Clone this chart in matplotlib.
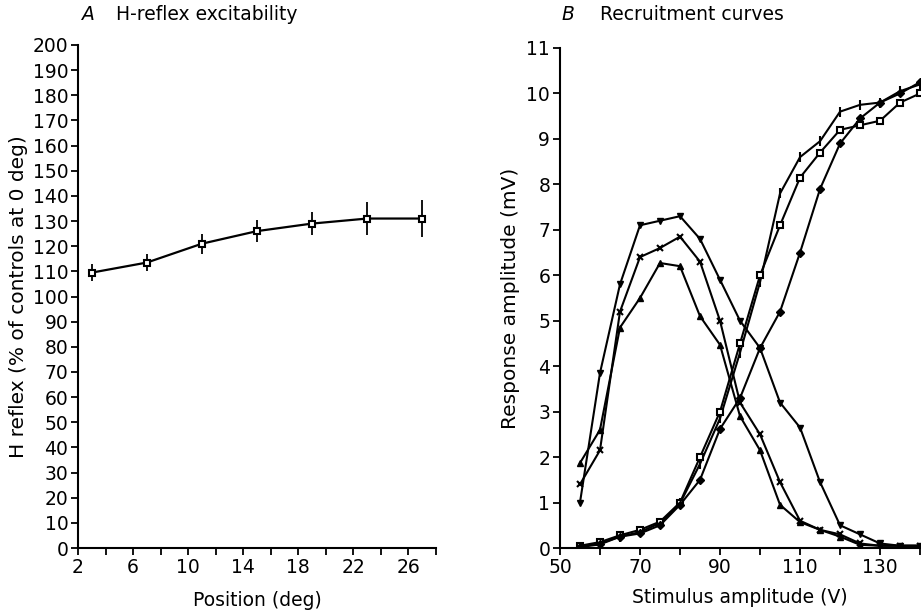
import matplotlib
matplotlib.use("Agg")
import matplotlib.pyplot as plt

plt.rcParams['font.family'] = ['DejaVu Sans']
plt.rcParams['font.size'] = 13.5

# panel A: H-reflex excitability vs position
position = [3, 7, 11, 15, 19, 23, 27]
h_reflex = [109.5, 113.5, 121, 126, 129, 131, 131]
h_err = [3.5, 3.5, 4, 4.5, 4.5, 6.5, 7.5]

# panel B: recruitment curves
stimulus = [55, 60, 65, 70, 75, 80, 85, 90, 95, 100, 105, 110, 115, 120, 125, 130, 135, 140]
h_down_tri = [1.0, 3.85, 5.8, 7.1, 7.2, 7.3, 6.8, 5.9, 5.0, 4.4, 3.2, 2.65, 1.45, 0.5, 0.3, 0.1, 0.05, 0.05]
h_cross = [1.4, 2.15, 5.2, 6.4, 6.6, 6.85, 6.3, 5.0, 3.2, 2.5, 1.45, 0.6, 0.4, 0.3, 0.1, 0.05, 0.05, 0.05]
h_up_tri = [1.87, 2.6, 4.85, 5.5, 6.27, 6.2, 5.1, 4.47, 2.9, 2.15, 0.95, 0.57, 0.4, 0.25, 0.07, 0.05, 0.05, 0.05]
m_plus = [0.03, 0.1, 0.25, 0.35, 0.55, 0.98, 1.85, 2.85, 4.3, 5.85, 7.8, 8.6, 8.95, 9.6, 9.75, 9.8, 10.05, 10.2]
m_square = [0.05, 0.13, 0.28, 0.4, 0.58, 1.0, 2.0, 3.0, 4.5, 6.0, 7.1, 8.15, 8.7, 9.2, 9.3, 9.4, 9.8, 10.0]
m_diamond = [0.02, 0.08, 0.25, 0.32, 0.5, 0.95, 1.5, 2.62, 3.3, 4.4, 5.2, 6.5, 7.9, 8.9, 9.45, 9.8, 10.0, 10.25]

fig = plt.figure(figsize=(9.21, 6.13), dpi=100)

axA = fig.add_axes([0.0847, 0.106, 0.3887, 0.8206])
axA.errorbar(position, h_reflex, yerr=h_err, color='black', lw=1.6, elinewidth=1.3,
             capsize=0, marker='s', mfc='white', mec='black', ms=5, mew=1.5)
axA.set_xlim(2, 28)
axA.set_ylim(0, 200)
axA.set_xticks(range(2, 29, 2))
axA.set_xticklabels([str(v) if v % 4 == 2 else '' for v in range(2, 29, 2)])
axA.set_yticks(range(0, 201, 10))
axA.set_xlabel('Position (deg)', labelpad=10)
axA.set_ylabel('H reflex (% of controls at 0 deg)', labelpad=3, fontsize=14.5)

axB = fig.add_axes([0.608, 0.106, 0.391, 0.8157])
style = dict(color='black', lw=1.5, ms=5)
axB.plot(stimulus, h_down_tri, marker='v', **style)
axB.plot(stimulus, h_cross, marker='x', mew=1.5, **style)
axB.plot(stimulus, h_up_tri, marker='^', **style)
axB.plot(stimulus, m_plus, marker='|', mew=1.5, ms=7, color='black', lw=1.5)
axB.plot(stimulus, m_square, marker='s', mfc='white', mec='black', mew=1.5, **style)
axB.plot(stimulus, m_diamond, marker='D', ms=4.5, color='black', lw=1.5)
axB.set_xlim(50, 140)
axB.set_ylim(0, 11)
axB.set_xticks(range(50, 141, 10))
axB.set_xticklabels([str(v) if v % 20 == 10 else '' for v in range(50, 141, 10)])
axB.set_yticks(range(0, 12))
axB.set_xlabel('Stimulus amplitude (V)', labelpad=8)
axB.set_ylabel('Response amplitude (mV)', labelpad=5, fontsize=14.5)

for ax in (axA, axB):
    for s in ('top', 'right'):
        ax.spines[s].set_visible(False)
    for s in ('left', 'bottom'):
        ax.spines[s].set_linewidth(1.5)
    ax.tick_params(direction='out', length=5, width=1.3, labelsize=13.5, pad=2)

fig.text(0.089, 0.977, 'A', style='italic', fontsize=13.5, va='center')
fig.text(0.126, 0.977, 'H-reflex excitability', fontsize=13.5, va='center')
fig.text(0.610, 0.977, 'B', style='italic', fontsize=13.5, va='center')
fig.text(0.651, 0.977, 'Recruitment curves', fontsize=13.5, va='center')

fig.savefig('out.png', dpi=100)
